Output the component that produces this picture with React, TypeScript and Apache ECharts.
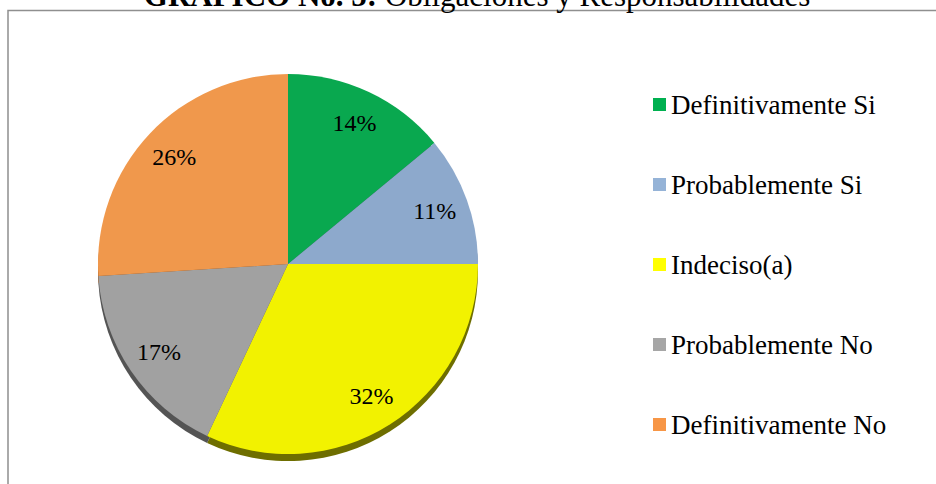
import React, { useEffect, useRef } from "react";
import * as echarts from "echarts";

const categories = [
  "Definitivamente Si",
  "Probablemente Si",
  "Indeciso(a)",
  "Probablemente No",
  "Definitivamente No",
];
const values = [14, 11, 32, 17, 26];
const sliceColors = ["#09A84F", "#8DA9CC", "#F2F200", "#A1A1A1", "#F0984C"];
const legendColors = ["#00B050", "#95B3D7", "#FFFF00", "#A6A6A6", "#F79646"];
const rimColors = ["#045a2a", "#4b5d73", "#6e6e00", "#545454", "#7d4a22"];
const titleBold = "GRÁFICO No. 5:";
const titleRest = " Obligaciones y Responsabilidades";

const FONT = "Liberation Serif";

export default function App() {
  const ref = useRef<HTMLDivElement>(null);
  useEffect(() => {
    if (!ref.current) return;
    const chart = echarts.init(ref.current, null, { renderer: "svg" });
    const center = [288, 264];
    const R = 190;
    chart.setOption({
      animation: false,
      backgroundColor: "#ffffff",
      textStyle: { fontFamily: FONT },
      graphic: [
        {
          type: "rect",
          shape: { x: 8, y: 10.5, width: 1000, height: 600 },
          style: { fill: "none", stroke: "#8f8f8f", lineWidth: 1.5 },
          silent: true,
          z: 0,
        },
        {
          type: "text",
          x: 477,
          y: -4.5,
          style: {
            text: "{b|" + titleBold + "}{r|" + titleRest + "}",
            align: "center",
            verticalAlign: "middle",
            rich: {
              b: { fontFamily: FONT, fontSize: 31, fontWeight: "bold", fill: "#000" },
              r: { fontFamily: FONT, fontSize: 31, fill: "#000" },
            },
          },
          z: 10,
        },
      ],
      legend: {
        orient: "vertical",
        left: 653,
        top: 91,
        padding: 0,
        itemWidth: 13,
        itemHeight: 13,
        itemGap: 53,
        icon: "rect",
        selectedMode: false,
        textStyle: { fontFamily: FONT, fontSize: 27, lineHeight: 27, color: "#000" },
        data: categories.map((c, i) => ({
          name: c,
          itemStyle: { color: legendColors[i] },
        })),
      },
      series: [
        {
          type: "pie",
          name: "rim",
          center: [center[0], center[1] + 7],
          radius: [0, R],
          startAngle: 90,
          silent: true,
          label: { show: false },
          labelLine: { show: false },
          itemStyle: { borderWidth: 0 },
          data: categories.map((c, i) => ({
            name: c,
            value: values[i],
            itemStyle: { color: rimColors[i] },
          })),
          z: 1,
        },
        {
          type: "pie",
          name: "main",
          center,
          radius: [0, R],
          startAngle: 90,
          label: { show: false },
          labelLine: { show: false },
          itemStyle: { borderWidth: 0 },
          data: categories.map((c, i) => ({
            name: c,
            value: values[i],
            itemStyle: { color: sliceColors[i] },
          })),
          z: 2,
        },
        {
          type: "pie",
          name: "labels",
          center,
          radius: [116, R],
          startAngle: 90,
          silent: true,
          itemStyle: { color: "rgba(0,0,0,0)", borderWidth: 0 },
          label: {
            show: true,
            position: "inside",
            formatter: "{c}%",
            fontFamily: FONT,
            fontSize: 24,
            color: "#000",
          },
          labelLine: { show: false },
          data: categories.map((c, i) => ({ name: c, value: values[i] })),
          z: 3,
        },
      ],
    });
    return () => chart.dispose();
  }, []);
  return (
    <div
      ref={ref}
      style={{ position: "fixed", left: 0, top: 0, width: 936, height: 484 }}
    />
  );
}
